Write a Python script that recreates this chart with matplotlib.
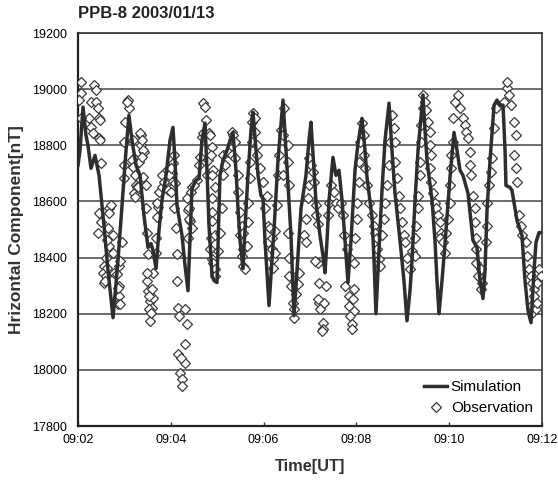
import matplotlib
matplotlib.use("Agg")
import matplotlib.pyplot as plt
from matplotlib.ticker import FixedLocator

plt.rcParams['font.family'] = ['Liberation Sans', 'DejaVu Sans']

title = "PPB-8 2003/01/13"
x_label = "Time[UT]"
y_label = "Hrizontal Component[nT]"
x_tick_seconds = [0, 120, 240, 360, 480, 600]           # seconds after 09:02:00
x_tick_labels = ["09:02", "09:04", "09:06", "09:08", "09:10", "09:12"]
y_ticks = [17800, 18000, 18200, 18400, 18600, 18800, 19000, 19200]

# Simulation (seconds after 09:02:00, nT)
sim_t = [0, 2.6, 6.5, 10.3, 12.9, 16.8, 22.0, 27.2, 33.6, 38.8, 45.3, 51.7, 58.2, 62.1, 65.9,
         69.8, 75.0, 80.2, 85.3, 90.5, 94.4, 97.0, 100.9, 104.7, 108.6, 113.8, 119.0, 122.8,
         125.4, 128.0, 134.5, 138.4, 142.2, 144.8, 147.4, 152.6, 156.5, 160.3, 164.2, 166.8,
         169.4, 173.3, 175.9, 179.7, 183.6, 187.5, 192.7, 196.6, 200.4, 204.3, 206.9, 209.5,
         213.4, 217.2, 219.8, 223.7, 226.3, 230.2, 232.8, 236.6, 239.2, 241.8, 247.0, 253.4,
         258.6, 265.1, 269.0, 271.6, 275.4, 279.3, 283.2, 288.4, 294.8, 298.7, 301.3, 305.2,
         307.8, 312.9, 316.8, 319.4, 322.0, 324.6, 329.7, 333.6, 337.5, 341.4, 345.3, 349.1,
         353.0, 358.2, 362.1, 367.2, 371.1, 373.7, 380.2, 382.8, 385.3, 389.2, 393.1, 397.0,
         402.2, 406.0, 409.9, 416.4, 421.5, 425.4, 429.3, 431.9, 435.8, 439.7, 446.1, 448.7,
         451.3, 457.8, 461.6, 464.2, 466.8, 470.7, 474.6, 481.0, 486.2, 490.1, 494.0, 497.8,
         504.3, 510.8, 515.9, 519.8, 523.7, 526.3, 528.9, 532.8, 535.4, 538.0, 541.8, 545.7,
         549.6, 552.2, 553.4, 558.6, 561.2, 567.7, 574.1, 578.0, 581.9, 585.8, 589.7, 592.2,
         596.1, 598.7]
sim_v = [18729, 18782, 18936, 18836, 18800, 18718, 18764, 18693, 18514, 18354, 18186, 18389,
         18632, 18782, 18907, 18818, 18729, 18693, 18550, 18436, 18450, 18425, 18361, 18496,
         18604, 18693, 18818, 18864, 18746, 18586, 18479, 18371, 18282, 18461, 18646, 18675,
         18682, 18818, 18879, 18711, 18514, 18336, 18318, 18311, 18693, 18746, 18782, 18818,
         18846, 18711, 18575, 18461, 18361, 18568, 18693, 18854, 18918, 18782, 18693, 18621,
         18611, 18461, 18229, 18496, 18746, 18961, 18782, 18657, 18479, 18193, 18354, 18575,
         18693, 18818, 18882, 18711, 18596, 18479, 18407, 18346, 18461, 18604, 18757, 18693,
         18711, 18604, 18461, 18311, 18461, 18711, 18807, 18896, 18782, 18686, 18543, 18389,
         18200, 18425, 18639, 18818, 18950, 18782, 18629, 18461, 18318, 18175, 18282, 18389,
         18604, 18782, 18979, 18854, 18746, 18604, 18461, 18318, 18200, 18318, 18450, 18686,
         18846, 18782, 18711, 18693, 18629, 18461, 18436, 18318, 18254, 18354, 18568, 18746,
         18843, 18943, 18961, 18943, 18943, 18782, 18657, 18650, 18639, 18532, 18479, 18318,
         18211, 18168, 18354, 18454, 18489, 18489]

# Observation (seconds after 09:02:00, nT)
obs_t = [3.9, 3.9, 20.7, 23.3, 16.8, 23.3, 25.9, 14.2, 27.2, 16.8, 19.4, 27.2, 29.7, 28.4, 28.4, 3.9, 1.3,
         27.2, 29.7, 25.9, 40.1, 42.7, 40.1, 38.8, 45.3, 40.1, 36.2, 33.6, 45.3, 32.3, 36.2, 33.6, 46.6,
         53.0, 53.0, 53.0, 51.7, 37.5, 37.5, 34.9, 50.4, 56.9, 54.3, 51.7, 54.3,
         64.7, 65.9, 60.8, 59.5, 71.1, 81.5, 81.5, 72.4, 78.9, 85.3, 59.5, 75.0, 72.4, 59.5, 69.8, 71.1,
         73.7, 76.3, 73.7, 80.2, 82.8, 84.1, 82.8, 84.1, 77.6, 87.9, 87.9, 63.4,
         89.2, 90.5, 89.2, 90.5, 93.1, 97.0, 95.7, 93.1, 97.0, 100.9, 100.9, 89.2, 95.7, 91.8, 91.8, 94.4,
         102.2, 103.4, 102.2, 104.7,
         108.6, 112.5, 115.1, 116.4, 119.0, 121.6, 122.8, 125.4, 108.6, 111.2, 117.7, 120.3, 124.1, 120.3,
         124.1, 126.7, 128.0, 128.0, 129.3, 138.4, 140.9, 138.4, 129.3, 138.4, 131.9, 134.5, 134.5, 130.6,
         133.2, 142.2, 144.8, 142.2, 147.4, 153.9, 140.9, 143.5, 143.5, 146.1, 150.0, 147.4,
         157.8, 160.3, 161.6, 161.6, 164.2, 165.5, 168.1, 173.3, 174.6, 177.2, 169.4, 156.5, 172.0, 166.8,
         173.3, 173.3, 172.0, 173.3, 170.7, 173.3, 173.3, 177.2, 170.7, 174.6, 177.2, 177.2,
         181.0, 183.6, 186.2, 187.5, 190.1, 187.5, 194.0, 199.1, 200.4, 203.0, 199.1, 203.0, 206.9, 206.9,
         209.5, 212.1, 209.5, 213.4, 213.4, 212.1, 213.4, 215.9, 218.5, 219.8, 219.8, 222.4, 222.4,
         225.0, 225.0, 226.3, 228.9, 228.9, 231.5, 231.5, 235.3, 239.2, 244.4, 241.8, 245.7, 245.7, 250.9,
         252.2, 252.2, 248.3, 250.9, 254.7, 254.7, 257.3, 258.6, 259.9, 262.5,
         266.4, 265.1, 271.6, 271.6, 265.1, 272.8, 271.6, 272.8, 272.8, 275.4, 278.0, 279.3, 279.3, 281.9,
         284.5, 285.8,
         292.2, 294.8, 294.8, 297.4, 298.7, 298.7, 301.3, 303.9, 305.2, 307.8, 307.8, 310.3, 310.3, 311.6,
         320.7, 311.6, 318.1, 316.8, 316.8, 306.5, 310.3, 312.9, 315.5, 323.3, 324.6,
         327.2, 331.0, 333.6, 336.2, 340.1, 342.7, 344.0, 347.8, 351.7, 358.2, 356.9, 345.3, 356.9, 350.4,
         350.4, 356.9, 351.7, 354.3, 354.3, 355.6,
         360.8, 360.8, 363.4, 363.4, 364.6, 367.2, 369.8, 369.8, 371.1, 373.7, 376.3, 380.2, 382.8, 384.1,
         386.6, 386.6, 389.2, 390.5,
         393.1, 395.7, 397.0, 399.6, 402.2, 403.4, 406.0, 408.6, 409.9, 409.9, 412.5, 415.1, 416.4, 419.0,
         421.5, 422.8, 425.4, 429.3, 431.9,
         435.8, 435.8, 437.1, 439.7, 439.7, 442.2, 442.2, 443.5, 443.5, 446.1, 446.1, 448.7, 450.0, 452.6,
         455.2, 455.2, 456.5, 455.2, 456.5, 459.1, 461.6, 462.9, 465.5, 468.1, 469.4, 468.1, 472.0, 474.6,
         475.9, 478.4, 481.0, 481.0, 482.3, 482.3, 484.9, 484.9, 487.5, 491.4, 494.0, 497.8, 500.4, 501.7,
         504.3, 506.9, 506.9, 508.2, 510.8, 513.4, 513.4, 514.7, 514.7, 514.7, 517.2,
         521.1, 521.1, 522.4, 527.6, 528.9, 528.9, 531.5, 534.0, 535.4, 538.0, 540.6, 550.9, 554.7, 554.7,
         557.3, 559.9, 563.8, 566.4, 563.8, 566.4, 567.7, 570.3, 572.8, 574.1, 579.3, 580.6, 583.2, 585.8,
         587.1, 589.7, 589.7, 585.8, 587.1, 592.2, 593.5, 593.5, 596.1, 598.7]
obs_v = [19025, 18986, 19014, 18996, 18954, 18954, 18932, 18896, 18896, 18864, 18843, 18825, 18736, 18889, 18818, 18896, 18961,
         18557, 18525, 18489, 18575, 18586, 18557, 18507, 18479, 18443, 18400, 18371, 18418, 18346, 18336, 18311, 18346,
         18371, 18300, 18264, 18236, 18461, 18364, 18318, 18343, 18454, 18389, 18293, 18236,
         18961, 18932, 18882, 18811, 18818, 18836, 18800, 18754, 18739, 18775, 18682, 18657, 18629, 18729, 18746, 18721,
         18693, 18650, 18614, 18843, 18818, 18782, 18757, 18686, 18650, 18657, 18575, 18954,
         18486, 18414, 18318, 18282, 18246, 18257, 18221, 18175, 18346, 18471, 18418, 18346, 18289, 18264, 18218, 18204,
         18543, 18579, 18596, 18632,
         18650, 18686, 18711, 18639, 18675, 18700, 18736, 18664, 18693, 18668, 18693, 18718, 18764, 18632,
         18575, 18507, 18414, 18318, 18221, 18218, 18164, 18093, 18057, 18025, 17989, 17968, 17943, 18193,
         18043, 18568, 18532, 18471, 18650, 18675, 18611, 18575, 18539, 18632, 18657, 18504,
         18757, 18829, 18843, 18950, 18936, 18889, 18746, 18793, 18711, 18650, 18843, 18729, 18764, 18693,
         18561, 18532, 18468, 18396, 18836, 18693, 18611, 18479, 18432, 18382, 18361, 18336,
         18425, 18489, 18575, 18693, 18729, 18764, 18775, 18846, 18836, 18811, 18764, 18754, 18693, 18632,
         18561, 18514, 18479, 18489, 18432, 18407, 18371, 18361, 18443, 18525, 18596, 18682, 18739,
         18811, 18882, 18914, 18896, 18846, 18800, 18764, 18718, 18668, 18621, 18575, 18514, 18454, 18432,
         18396, 18364, 18507, 18471, 18418, 18496, 18586, 18693, 18764, 18854,
         18932, 18836, 18800, 18739, 18693, 18657, 18489, 18400, 18336, 18300, 18239, 18218, 18186, 18271,
         18307, 18346,
         18479, 18539, 18454, 18611, 18657, 18754, 18729, 18704, 18668, 18586, 18550, 18521, 18382, 18311,
         18300, 18239, 18239, 18168, 18146, 18389, 18254, 18218, 18139, 18550, 18596,
         18657, 18632, 18596, 18575, 18596, 18550, 18479, 18432, 18400, 18468, 18382, 18300, 18289, 18264,
         18229, 18211, 18193, 18164, 18146, 18254,
         18539, 18596, 18668, 18739, 18811, 18879, 18836, 18764, 18718, 18657, 18596, 18550, 18514, 18489,
         18468, 18432, 18396, 18371,
         18479, 18539, 18596, 18657, 18729, 18811, 18907, 18861, 18811, 18739, 18682, 18621, 18575, 18525,
         18479, 18454, 18400, 18361, 18425,
         18407, 18468, 18514, 18575, 18621, 18693, 18739, 18811, 18871, 18932, 18979, 18954, 18925, 18882,
         18846, 18800, 18764, 18718, 18668, 18629, 18596, 18575, 18550, 18525, 18489, 18468, 18454, 18418,
         18489, 18539, 18596, 18657, 18718, 18764, 18811, 18896, 18954, 18979, 18932, 18896, 18871, 18846,
         18825, 18775, 18729, 18693, 18621, 18575, 18525, 18468, 18432, 18382, 18336,
         18361, 18289, 18311, 18454, 18514, 18596, 18657, 18704, 18754, 18861, 18932, 18954, 19004, 19025,
         18979, 18943, 18882, 18836, 18764, 18718, 18668, 18550, 18514, 18479, 18454, 18407, 18361, 18336,
         18311, 18289, 18264, 18229, 18204, 18218, 18239, 18311, 18361, 18336]

fig = plt.figure(figsize=(5.58, 4.86), dpi=100)
ax = fig.add_axes([78/558, 1 - 426/486, (542-78)/558, (426-33)/486])

ax.plot(obs_t, obs_v, linestyle='none', marker='D', markersize=5.4,
        markerfacecolor='white', markeredgecolor='#3a3a3a', markeredgewidth=0.9,
        label='Observation', zorder=3)
ax.plot(sim_t, sim_v, color='#2e2e2e', linewidth=2.5, label='Simulation', zorder=4)

ax.set_xlim(0, 600)
ax.set_ylim(17800, 19200)
ax.xaxis.set_major_locator(FixedLocator(x_tick_seconds))
ax.set_xticklabels(x_tick_labels, fontsize=9)
ax.set_yticks(y_ticks)
ax.set_yticklabels([str(v) for v in y_ticks], fontsize=9)
ax.tick_params(axis='x', direction='in', length=3, width=1, color='#333333', pad=6)
ax.tick_params(axis='y', length=0, pad=8)
ax.grid(axis='y', color='#444444', linewidth=1.1)
ax.set_axisbelow(True)

for side in ['left', 'bottom']:
    ax.spines[side].set_color('#222222')
    ax.spines[side].set_linewidth(1.6)
for side in ['top', 'right']:
    ax.spines[side].set_color('#333333')
    ax.spines[side].set_linewidth(1.2)

ax.set_xlabel(x_label, fontsize=11.8, fontweight='bold', color='#333333', labelpad=9)
ax.set_ylabel(y_label, fontsize=12.5, fontweight='bold', color='#333333', labelpad=6)
fig.text(78/558, 1 - 14/486, title, fontsize=12, fontweight='bold', color='#222222',
         ha='left', va='center')

handles, labels = ax.get_legend_handles_labels()
leg = ax.legend([handles[1], handles[0]], [labels[1], labels[0]], loc='lower right',
                bbox_to_anchor=(1.0, 0.005), frameon=False, fontsize=11,
                handlelength=1.5, handletextpad=0.25, borderaxespad=0.2, labelspacing=0.45)

fig.savefig('out.png', dpi=100)
